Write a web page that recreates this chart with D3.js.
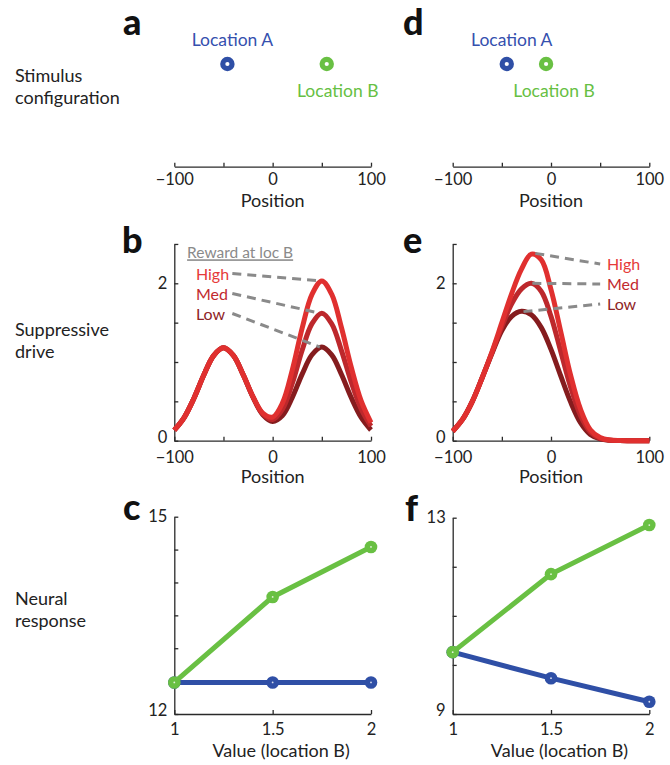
<!DOCTYPE html>
<html>
<head>
<meta charset="utf-8">
<script src="https://cdn.jsdelivr.net/npm/d3@7"></script>
<style>
  html, body { margin: 0; padding: 0; background: #fff; }
  svg { display: block; font-family: Lato, "Noto Sans", sans-serif; }
</style>
</head>
<body>
<svg id="chart" width="670" height="765"></svg>
<script>
// ---------------- DATA ----------------
const positionTicks = [-100, -50, 0, 50, 100];
const positionTickLabels = [-100, 0, 100];
const positions = [-100, -90, -80, -70, -60, -50, -40, -30, -20, -10, 0, 10, 20, 30, 40, 50, 60, 70, 80, 90, 100];

// Stimulus locations (panels a and d)
const stimLeft = [-46, 55];   // Location A, Location B
const stimRight = [-45, -5];
const stimNames = ["Location A", "Location B"];

// Suppressive drive, panel b
const driveB_low  = [0.135, 0.294, 0.540, 0.834, 1.082, 1.180, 1.083, 0.838, 0.552, 0.330, 0.245, 0.320, 0.550, 0.846, 1.092, 1.190, 1.091, 0.841, 0.545, 0.296, 0.136];
const driveB_med  = [0.135, 0.294, 0.540, 0.834, 1.082, 1.180, 1.083, 0.839, 0.556, 0.340, 0.270, 0.400, 0.730, 1.150, 1.487, 1.620, 1.486, 1.145, 0.742, 0.403, 0.185];
const driveB_high = [0.135, 0.294, 0.540, 0.834, 1.082, 1.180, 1.084, 0.840, 0.560, 0.350, 0.300, 0.480, 0.900, 1.430, 1.860, 2.030, 1.862, 1.435, 0.930, 0.505, 0.231];

// Suppressive drive, panel e
const driveE_low  = [0.12, 0.27, 0.50, 0.80, 1.11, 1.40, 1.58, 1.645, 1.60, 1.44, 1.16, 0.82, 0.49, 0.23, 0.08, 0.022, 0.005, 0.001, 0, 0, 0];
const driveE_med  = [0.12, 0.27, 0.50, 0.80, 1.12, 1.45, 1.74, 1.93, 2.00, 1.90, 1.58, 1.13, 0.68, 0.32, 0.11, 0.03, 0.006, 0.001, 0, 0, 0];
const driveE_high = [0.12, 0.27, 0.50, 0.80, 1.13, 1.50, 1.87, 2.18, 2.37, 2.30, 1.92, 1.38, 0.83, 0.40, 0.14, 0.04, 0.008, 0.001, 0, 0, 0];
const rewardLevels = ["High", "Med", "Low"];

// Neural response
const values = [1, 1.5, 2];
const valueTickLabels = ["1", "1.5", "2"];
const respC_A = [12.48, 12.48, 12.48];
const respC_B = [12.48, 13.78, 14.54];
const respF_A = [10.26, 9.73, 9.25];
const respF_B = [10.26, 11.85, 12.85];
const ticksC = [12, 12.5, 13, 13.5, 14, 14.5, 15];
const ticksCLabels = [12, 15];
const ticksF = [9, 10, 11, 12, 13];
const ticksFLabels = [9, 13];
const ticksDrive = [0, 0.5, 1, 1.5, 2, 2.5];
const ticksDriveLabels = [0, 2];

// ---------------- STYLE ----------------
const BLUE = "#2f4fa6", GREEN = "#69c043";
const BLUE_TXT = "#3550ae", GREEN_TXT = "#66c043";
const CURVE = { High: "#e0302f", Med: "#bd282c", Low: "#851c1e" };
const LABEL = { High: "#e63a3a", Med: "#c22a2e", Low: "#8e2426" };
const AX = "#2a2a2a";
const GREY = "#8a8a8a";

const svg = d3.select("#chart");

const cols = [{ x0: 174.3, x1: 371 }, { x0: 452.7, x1: 649.3 }];

function styleAxis(g) {
  g.select(".domain").attr("stroke", AX).attr("stroke-width", 1.3);
  g.selectAll(".tick line").attr("stroke", AX).attr("stroke-width", 1.3);
  g.selectAll(".tick text").attr("fill", "#222").style("font-size", "16.5px").style("font-family", "Lato, 'Noto Sans', sans-serif");
}

function xAxisPos(x, y, pad) {
  const ax = d3.axisBottom(x).tickValues(positionTicks).tickSize(-4).tickSizeOuter(0).tickPadding(pad)
    .tickFormat(d => positionTickLabels.includes(d) ? d3.format("d")(d) : "");
  const g = svg.append("g").attr("transform", `translate(0,${y})`).call(ax);
  styleAxis(g);
  return g;
}

function yAxis(y, xpos, ticks, labels) {
  const ax = d3.axisLeft(y).tickValues(ticks).tickSize(-4).tickSizeOuter(0).tickPadding(7)
    .tickFormat(d => labels.includes(d) ? d3.format("d")(d) : "");
  const g = svg.append("g").attr("transform", `translate(${xpos},0)`).call(ax);
  styleAxis(g);
  return g;
}

function axisTitle(text, x, y) {
  svg.append("text").attr("x", x).attr("y", y).attr("text-anchor", "middle")
    .attr("fill", "#222").style("font-size", "18px").text(text);
}

function letter(t, x, y) {
  svg.append("text").attr("x", x).attr("y", y).attr("fill", "#111")
    .style("font-size", "36px").style("font-weight", "900").text(t);
}

// ---------------- ROW LABELS ----------------
const rowLabels = [
  { lines: ["Stimulus", "configuration"], y: 82 },
  { lines: ["Suppressive", "drive"], y: 336 },
  { lines: ["Neural", "response"], y: 605 }
];
rowLabels.forEach(r => {
  const t = svg.append("text").attr("x", 15).attr("y", r.y).attr("fill", "#222").style("font-size", "18px");
  r.lines.forEach((l, i) => t.append("tspan").attr("x", 15).attr("dy", i === 0 ? 0 : 21.5).text(l));
});

// ---------------- PANELS a / d ----------------
[stimLeft, stimRight].forEach((stim, ci) => {
  const c = cols[ci];
  const x = d3.scaleLinear().domain([-100, 100]).range([c.x0, c.x1]);
  xAxisPos(x, 166.7, 7);
  axisTitle("Position", (c.x0 + c.x1) / 2, 207);
  const dotY = 64;
  const cols2 = [BLUE, GREEN];
  stim.forEach((s, i) => {
    svg.append("circle").attr("cx", x(s)).attr("cy", dotY).attr("r", 7.2).attr("fill", cols2[i]);
    svg.append("circle").attr("cx", x(s)).attr("cy", dotY).attr("r", 2.1).attr("fill", "#fff");
  });
  svg.append("text").attr("x", x(stim[0]) + 5).attr("y", 45.5).attr("text-anchor", "middle")
    .attr("fill", BLUE_TXT).style("font-size", "17.5px").text(stimNames[0]);
  svg.append("text").attr("x", x(stim[1]) + (ci === 0 ? 11 : 8)).attr("y", 97).attr("text-anchor", "middle")
    .attr("fill", GREEN_TXT).style("font-size", "17.5px").text(stimNames[1]);
});
letter("a", 123, 35);
letter("d", 403, 35);

// ---------------- PANELS b / e ----------------
const yDrive = d3.scaleLinear().domain([0, 2.5]).range([440.7, 243.95]);
const driveSets = [
  { High: driveB_high, Med: driveB_med, Low: driveB_low },
  { High: driveE_high, Med: driveE_med, Low: driveE_low }
];
driveSets.forEach((set, ci) => {
  const c = cols[ci];
  const x = d3.scaleLinear().domain([-100, 100]).range([c.x0, c.x1]);
  const ya = yAxis(yDrive, c.x0, ticksDrive, ticksDriveLabels);
  ya.selectAll(".tick text").filter(d => d === 0).attr("dy", "0.12em");
  xAxisPos(x, 440.7, 10.2);
  axisTitle("Position", (c.x0 + c.x1) / 2, 483);
  const line = d3.line().x((d, i) => x(positions[i])).y(d => yDrive(d)).curve(d3.curveCatmullRom.alpha(0.5));
  ["Low", "Med", "High"].forEach(k => {
    svg.append("path").attr("d", line(set[k])).attr("fill", "none")
      .attr("stroke", CURVE[k]).attr("stroke-width", 5);
  });
});

// Panel b annotations
(function () {
  const c = cols[0];
  const x = d3.scaleLinear().domain([-100, 100]).range([c.x0, c.x1]);
  svg.append("text").attr("x", x(-87)).attr("y", 258.3).attr("fill", GREY)
    .style("font-size", "15.5px").style("text-decoration", "underline").text("Reward at loc B");
  const peaks = { High: 2.03, Med: 1.62, Low: 1.19 };
  const labelY = { High: 280, Med: 300, Low: 320 };
  rewardLevels.forEach(k => {
    svg.append("text").attr("x", x(-78)).attr("y", labelY[k]).attr("fill", LABEL[k])
      .style("font-size", "16px").text(k);
    svg.append("line").attr("x1", x(-41)).attr("y1", labelY[k] - 6.5)
      .attr("x2", x(48)).attr("y2", yDrive(peaks[k]))
      .attr("stroke", GREY).attr("stroke-width", 3).attr("stroke-dasharray", "9,6");
  });
})();

// Panel e annotations
(function () {
  const c = cols[1];
  const x = d3.scaleLinear().domain([-100, 100]).range([c.x0, c.x1]);
  const peaks = { High: [-16, 2.38], Med: [-19, 2.0], Low: [-28, 1.64] };
  const labelY = { High: 270, Med: 290, Low: 310 };
  rewardLevels.forEach(k => {
    svg.append("line").attr("x1", x(peaks[k][0])).attr("y1", yDrive(peaks[k][1]))
      .attr("x2", x(50)).attr("y2", labelY[k] - 6)
      .attr("stroke", GREY).attr("stroke-width", 3).attr("stroke-dasharray", "9,6");
    svg.append("text").attr("x", x(57)).attr("y", labelY[k]).attr("fill", LABEL[k])
      .style("font-size", "16px").text(k);
  });
})();
letter("b", 122, 253);
letter("e", 403, 253);

// ---------------- PANELS c / f ----------------
const respSets = [
  { A: respC_A, B: respC_B, dom: [12, 15], top: 516.7, ticks: ticksC, labels: ticksCLabels },
  { A: respF_A, B: respF_B, dom: [9, 13], top: 517.7, ticks: ticksF, labels: ticksFLabels }
];
respSets.forEach((r, ci) => {
  const c = cols[ci];
  const x = d3.scaleLinear().domain([1, 2]).range([c.x0, c.x1]);
  const y = d3.scaleLinear().domain(r.dom).range([714, r.top]);
  const ya = yAxis(y, c.x0, r.ticks, r.labels);
  ya.selectAll(".tick text").filter(d => d === r.dom[0]).attr("dy", "0.12em");
  const ax = d3.axisBottom(x).tickValues(values).tickSize(-4).tickSizeOuter(0).tickPadding(9)
    .tickFormat((d, i) => valueTickLabels[i]);
  const g = svg.append("g").attr("transform", "translate(0,714)").call(ax);
  styleAxis(g);
  axisTitle("Value (location B)", (c.x0 + c.x1) / 2 + 8.5, 756.7);
  const line = d3.line().x((d, i) => x(values[i])).y(d => y(d));
  [[r.A, BLUE], [r.B, GREEN]].forEach(([arr, col]) => {
    svg.append("path").attr("d", line(arr)).attr("fill", "none").attr("stroke", col).attr("stroke-width", 5);
    svg.selectAll(null).data(arr).enter().append("circle")
      .attr("cx", (d, i) => x(values[i])).attr("cy", d => y(d)).attr("r", 6.3).attr("fill", col);
    svg.selectAll(null).data(arr).enter().append("circle")
      .attr("cx", (d, i) => x(values[i])).attr("cy", d => y(d)).attr("r", 0.9).attr("fill", "#fff").attr("opacity", 0.8);
  });
});
letter("c", 123, 520);
letter("f", 405, 521);
</script>
</body>
</html>
